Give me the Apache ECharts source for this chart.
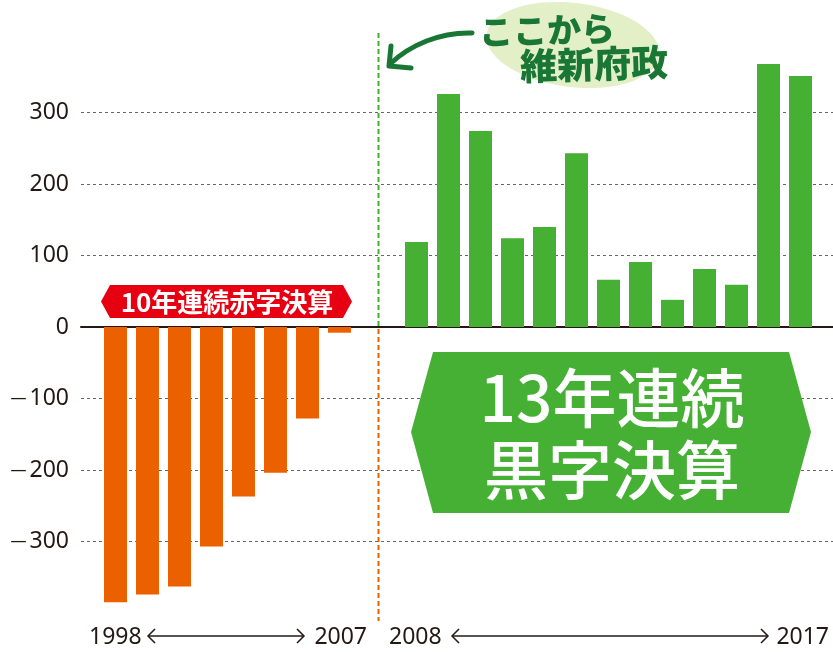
<!DOCTYPE html>
<html>
<head>
<meta charset="utf-8">
<script src="https://cdn.jsdelivr.net/npm/echarts@6/dist/echarts.min.js"></script>
<style>
  html, body { margin: 0; padding: 0; background: #fff; }
  #chart { width: 833px; height: 652px; }
</style>
</head>
<body>
<div id="chart"></div>
<script>
// data
var redCats = ['1', '2', '3', '4', '5', '6', '7', '8'];
var redValues = [-385, -374, -363, -307, -237, -204, -128, -8];
var greenCats = ['1', '2', '3', '4', '5', '6', '7', '8', '9', '10', '11', '12', '13'];
var greenValues = [119, 326, 274, 124, 140, 243, 66, 91, 38, 81, 59, 368, 351];
var yMin = -400, yMax = 400, yStep = 100;
var rangeLabels = ['1998', '2007', '2008', '2017'];
var redBadge = '10年連続赤字決算';
var greenBadge = ['13年連続', '黒字決算'];
var calloutText = ['ここから', '維新府政'];

var chart = echarts.init(document.getElementById('chart'));

var textColor = '#231815';
var orange = '#eb6100';
var green = '#46b035';
var darkGreen = '#1a7634';
var numFont = '"Noto Sans", sans-serif';
var cjkFont = '"Noto Sans CJK JP", sans-serif';

var gridTop = 41, gridBottom = 39;

function yAxisHidden(idx) {
    return {
        type: 'value', gridIndex: idx, min: yMin, max: yMax, interval: yStep,
        show: false
    };
}

function arrow(x1, x2, y) {
    return [
        { type: 'line', shape: { x1: x1, y1: y, x2: x2, y2: y },
          style: { stroke: textColor, lineWidth: 1.5 } },
        { type: 'polyline', shape: { points: [[x1 + 7, y - 7], [x1, y], [x1 + 7, y + 7]] },
          style: { stroke: textColor, lineWidth: 1.5, fill: null } },
        { type: 'polyline', shape: { points: [[x2 - 7, y - 7], [x2, y], [x2 - 7, y + 7]] },
          style: { stroke: textColor, lineWidth: 1.5, fill: null } }
    ];
}

function yearText(txt, x, align) {
    return {
        type: 'text', x: x, y: 637,
        style: { text: txt, fill: textColor, font: '23px ' + numFont,
                 align: align, verticalAlign: 'middle' }
    };
}

var option = {
    animation: false,
    grid: [
        { left: 81, right: 0, top: gridTop, bottom: gridBottom },
        { left: 99.5, width: 256, top: gridTop, bottom: gridBottom },
        { left: 400.5, width: 416, top: gridTop, bottom: gridBottom }
    ],
    xAxis: [
        {
            type: 'category', gridIndex: 0, data: [''],
            axisLine: { show: true, onZero: true, lineStyle: { color: textColor, width: 2 } },
            axisTick: { show: false }, axisLabel: { show: false }, splitLine: { show: false }
        },
        { type: 'category', gridIndex: 1, data: redCats, show: false },
        { type: 'category', gridIndex: 2, data: greenCats, show: false }
    ],
    yAxis: [
        {
            type: 'value', gridIndex: 0, min: yMin, max: yMax, interval: yStep,
            axisLine: { show: false }, axisTick: { show: false },
            axisLabel: {
                color: textColor, fontSize: 23, fontFamily: numFont, margin: 12,
                formatter: function (v) {
                    if (v === yMin || v === yMax) return '';
                    return v < 0 ? '{m|—}' + Math.abs(v) : String(v);
                },
                rich: {
                    m: { fontSize: 16, fontFamily: numFont, color: textColor, padding: [0, 3, 0, 0] }
                }
            },
            splitLine: {
                show: true,
                lineStyle: {
                    color: ['transparent', '#666', '#666', '#666', '#666', '#666', '#666', '#666', 'transparent'],
                    type: [3, 3], width: 1
                }
            }
        },
        yAxisHidden(1),
        yAxisHidden(2)
    ],
    series: [
        {
            type: 'bar', xAxisIndex: 1, yAxisIndex: 1, barWidth: 23,
            itemStyle: { color: orange }, data: redValues, z: 3
        },
        {
            type: 'bar', xAxisIndex: 2, yAxisIndex: 2, barWidth: 23,
            itemStyle: { color: green }, data: greenValues, z: 3
        }
    ],
    graphic: [
        // divider 2007 / 2008
        { type: 'line', z: 10, shape: { x1: 378.5, y1: 33, x2: 378.5, y2: 326 },
          style: { stroke: green, lineWidth: 2, lineDash: [5, 3] } },
        { type: 'line', z: 10, shape: { x1: 378.5, y1: 329, x2: 378.5, y2: 621 },
          style: { stroke: orange, lineWidth: 2, lineDash: [5, 3] } },

        // red badge
        { type: 'polygon', z: 10,
          shape: { points: [[101, 301.5], [110, 285], [343, 285], [352, 301.5], [343, 318], [110, 318]] },
          style: { fill: '#e60012' } },
        { type: 'text', z: 11, x: 227, y: 302,
          style: { text: redBadge, fill: '#fff', font: 'bold 26px ' + cjkFont,
                   align: 'center', verticalAlign: 'middle' } },

        // green badge
        { type: 'polygon', z: 10,
          shape: { points: [[411, 432], [433, 352], [789, 352], [811, 432], [789, 513], [433, 513]] },
          style: { fill: green } },
        { type: 'text', z: 11, x: 612, y: 398,
          style: { text: greenBadge[0], fill: '#fff', font: '500 64px ' + cjkFont,
                   align: 'center', verticalAlign: 'middle' } },
        { type: 'text', z: 11, x: 612, y: 470,
          style: { text: greenBadge[1], fill: '#fff', font: '500 64px ' + cjkFont,
                   align: 'center', verticalAlign: 'middle' } },

        // callout
        { type: 'ellipse', z: 10, x: 573, y: 45, rotation: -0.12,
          shape: { cx: 0, cy: 0, rx: 87, ry: 42 },
          style: { fill: '#e2efc7' } },
        { type: 'text', z: 11, x: 547, y: 30, rotation: 0.03,
          style: { text: calloutText[0], fill: darkGreen, font: '900 34px ' + cjkFont,
                   align: 'center', verticalAlign: 'middle' } },
        { type: 'text', z: 11, x: 594, y: 64, rotation: 0.03,
          style: { text: calloutText[1], fill: darkGreen, font: '900 37px ' + cjkFont,
                   align: 'center', verticalAlign: 'middle' } },
        { type: 'bezierCurve', z: 11,
          shape: { x1: 472, y1: 33, cpx1: 440, cpy1: 32, cpx2: 410, cpy2: 45, x2: 390, y2: 64 },
          style: { stroke: darkGreen, lineWidth: 5, lineCap: 'round', fill: null } },
        { type: 'polyline', z: 11,
          shape: { points: [[391, 46], [389, 66], [411, 68]] },
          style: { stroke: darkGreen, lineWidth: 5, lineCap: 'round', lineJoin: 'round', fill: null } },

        // year ranges
        yearText(rangeLabels[0], 89, 'left'),
        yearText(rangeLabels[1], 367, 'right'),
        yearText(rangeLabels[2], 389, 'left'),
        yearText(rangeLabels[3], 829, 'right')
    ].concat(arrow(148, 304, 636)).concat(arrow(452, 768, 636))
};

chart.setOption(option);
</script>
</body>
</html>
